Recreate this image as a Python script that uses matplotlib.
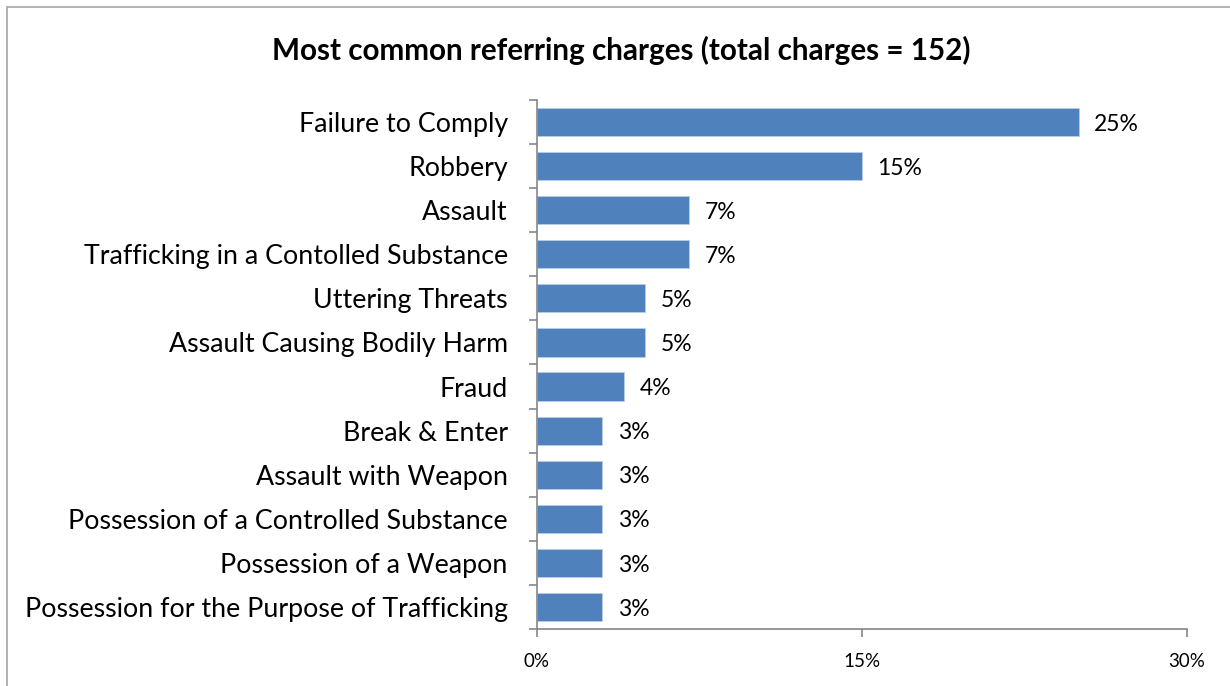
import matplotlib
matplotlib.use("Agg")
import numpy as np
import matplotlib.pyplot as plt
from matplotlib.patches import Rectangle

charges = ["Failure to Comply", "Robbery", "Assault",
           "Trafficking in a Contolled Substance", "Uttering Threats",
           "Assault Causing Bodily Harm", "Fraud", "Break & Enter",
           "Assault with Weapon", "Possession of a Controlled Substance",
           "Possession of a Weapon",
           "Possession for the Purpose of Trafficking"]
share = [25, 15, 7, 7, 5, 5, 4, 3, 3, 3, 3, 3]
xticks = [0, 15, 30]

plt.rcParams['font.family'] = ['Lato', 'DejaVu Sans']
axis_grey = '#868686'

fig = plt.figure(figsize=(12.3, 6.86), dpi=100)
ax = fig.add_axes([537/1230, 1-629/686, 650/1230, 529/686])

y = np.arange(len(charges))
ax.barh(y, share, height=0.64, color='#4F81BD', edgecolor='#B9CDE5', linewidth=0.6)
for yi, v in zip(y, share):
    ax.text(v + 0.72, yi + 0.05, f"{v}%", va='center', ha='left', fontsize=16.5)

ax.set_xlim(0, 30)
ax.set_ylim(len(charges) - 0.5, -0.5)
ax.set_xticks(xticks)
ax.set_xticklabels([f"{t}%" for t in xticks], fontsize=13.5)
ax.set_yticks(y)
ax.set_yticklabels(charges, fontsize=19.3)
ax.set_yticks(np.arange(len(charges) + 1) - 0.5, minor=True)

ax.tick_params(axis='y', which='major', length=0, pad=21)
ax.tick_params(axis='y', which='minor', length=6, color=axis_grey, width=1.2)
ax.tick_params(axis='x', length=6, color=axis_grey, width=1.2, pad=11)

for side in ['top', 'right']:
    ax.spines[side].set_visible(False)
for side in ['left', 'bottom']:
    ax.spines[side].set_color(axis_grey)
    ax.spines[side].set_linewidth(1.2)

fig.text(621/1230, 1-50/686, "Most common referring charges (total charges = 152)",
         ha='center', va='center', fontsize=21.3, fontweight='bold')

# outer chart frame
fig.patches.append(Rectangle((7/1230, -0.1), 1.2, 1-7/686 + 0.1,
                             transform=fig.transFigure, fill=False,
                             edgecolor='#A6A6A6', linewidth=1.2))

fig.savefig("out.png", dpi=100)
